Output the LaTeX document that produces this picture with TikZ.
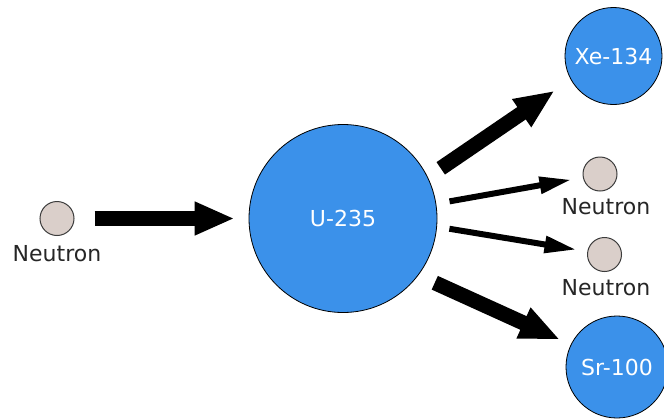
\documentclass[tikz,border=0pt]{standalone}
\usepackage{fontspec}
\newfontfamily\labfont{DejaVu Sans}
\usetikzlibrary{arrows.meta}
\definecolor{nucblue}{RGB}{59,145,234}
\definecolor{neufill}{RGB}{218,207,202}
\definecolor{neudraw}{RGB}{60,60,60}
\tikzset{
  nucleus/.style={circle, fill=nucblue, draw=black, line width=0.8pt, inner sep=0pt, text=white, font=\labfont\fontsize{22}{26}\selectfont},
  neutron/.style={circle, fill=neufill, draw=neudraw, line width=1pt, inner sep=0pt, minimum size=34pt},
  lab/.style={font=\labfont\fontsize{22}{26}\selectfont, text=black!85, inner sep=0pt},
  bigarrow/.style={line width=15pt, -{Triangle[length=40pt,width=31pt]}},
  smallarrow/.style={line width=6pt, -{Triangle[length=32pt,width=16pt]}}
}
\begin{document}
\begin{tikzpicture}[x=1pt,y=-1pt]
\clip (0,0) rectangle (664,418);
\fill[white] (0,0) rectangle (664,418);
% nodes
\node[neutron] (n0) at (57,218.5) {};
\node[lab] (l0) at (57,253.5) {Neutron};
\node[nucleus, minimum size=188pt] (u) at (343,218.5) {U-235};
\node[nucleus, minimum size=97pt] (xe) at (613.5,56) {Xe-134};
\node[nucleus, minimum size=102pt] (sr) at (617,367) {Sr-100};
\node[neutron] (n1) at (600,174) {};
\node[lab] (l1) at (606,207) {Neutron};
\node[neutron] (n2) at (604.5,254.5) {};
\node[lab] (l2) at (606,287.5) {Neutron};
% arrows
\draw[bigarrow, shorten <=20pt, shorten >=14pt] (n0.east) -- (u.west);
\draw[bigarrow, shorten <=15.6pt, shorten >=19.5pt] (u.26.6) -- (xe.209);
\draw[smallarrow, shorten <=13.5pt, shorten >=11.6pt] (u.9.6) -- (n1.192);
\draw[smallarrow, shorten <=12.5pt, shorten >=10.9pt] (u.-5.4) -- (n2.170.7);
\draw[bigarrow, shorten <=18pt, shorten >=12pt] (u.-37.4) -- (sr.154.7);
\end{tikzpicture}
\end{document}
